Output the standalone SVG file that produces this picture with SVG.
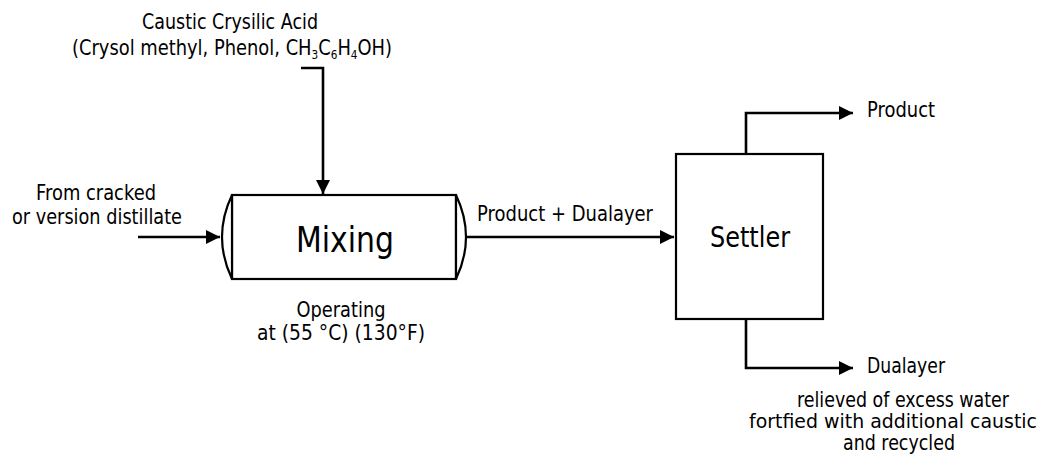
<svg xmlns="http://www.w3.org/2000/svg" width="1047" height="456" viewBox="0 0 1047 456">
  <style>
    text { font-family: "DejaVu Sans", Verdana, sans-serif; fill: #000; }
    .lbl { font-size: 20.5px; }
    .mid { text-anchor: middle; }
    .sub { font-size: 12px; }
    .line { fill: none; stroke: #000; stroke-width: 2.6; }
    .box { fill: #fff; stroke: #000; stroke-width: 2.2; }
  </style>
  <defs>
    <marker id="arrow" viewBox="0 0 14 14" refX="14" refY="7" markerWidth="14" markerHeight="14" markerUnits="userSpaceOnUse" orient="auto">
      <path d="M0,0 L14,7 L0,14 Z" fill="#000"/>
    </marker>
  </defs>
  <rect width="1047" height="456" fill="#fff"/>

  <g id="connectors">
    <path class="line" d="M301,68 H323 V194" marker-end="url(#arrow)"/>
    <path class="line" d="M138,237 H220" marker-end="url(#arrow)"/>
    <path class="line" d="M465,237 H674" marker-end="url(#arrow)"/>
    <path class="line" d="M746,154 V113 H853" marker-end="url(#arrow)"/>
    <path class="line" d="M746,319 V368 H853" marker-end="url(#arrow)"/>
  </g>

  <g id="feed-caustic">
    <text class="lbl mid" x="230" y="29" textLength="176" lengthAdjust="spacingAndGlyphs">Caustic Crysilic Acid</text>
    <text class="lbl mid" x="232" y="55" textLength="320" lengthAdjust="spacingAndGlyphs">(Crysol methyl, Phenol, CH<tspan class="sub" dy="4">3</tspan><tspan dy="-4">C</tspan><tspan class="sub" dy="4">6</tspan><tspan dy="-4">H</tspan><tspan class="sub" dy="4">4</tspan><tspan dy="-4">OH)</tspan></text>
  </g>

  <g id="feed-distillate">
    <text class="lbl mid" x="96" y="200" textLength="120" lengthAdjust="spacingAndGlyphs">From cracked</text>
    <text class="lbl mid" x="97" y="224" textLength="170" lengthAdjust="spacingAndGlyphs">or version distillate</text>
  </g>

  <g id="mixing">
    <rect class="box" x="232" y="195" width="224" height="84"/>
    <path class="box" d="M232,195 Q212,237 232,279 Z"/>
    <path class="box" d="M456,195 Q476,237 456,279 Z"/>
    <text class="mid" x="345" y="252" font-size="36" textLength="98" lengthAdjust="spacingAndGlyphs">Mixing</text>
    <text class="lbl mid" x="341" y="317" textLength="89" lengthAdjust="spacingAndGlyphs">Operating</text>
    <text class="lbl mid" x="341" y="340" textLength="168" lengthAdjust="spacingAndGlyphs">at (55 °C) (130°F)</text>
  </g>

  <g id="stream-label">
    <text class="lbl" x="477" y="221" textLength="176" lengthAdjust="spacingAndGlyphs">Product + Dualayer</text>
  </g>

  <g id="settler">
    <rect class="box" x="676" y="154" width="147" height="165"/>
    <text class="mid" x="750" y="247" font-size="27.5" textLength="80" lengthAdjust="spacingAndGlyphs">Settler</text>
  </g>

  <g id="product">
    <text class="lbl" x="867" y="117" textLength="68" lengthAdjust="spacingAndGlyphs">Product</text>
  </g>

  <g id="dualayer">
    <text class="lbl" x="867" y="373" textLength="78" lengthAdjust="spacingAndGlyphs">Dualayer</text>
    <text class="lbl mid" x="903" y="407" textLength="212" lengthAdjust="spacingAndGlyphs">relieved of excess water</text>
    <text class="mid" x="893" y="428" font-size="19" textLength="288" lengthAdjust="spacingAndGlyphs">fortfied with additional caustic</text>
    <text class="lbl mid" x="899" y="450" textLength="112" lengthAdjust="spacingAndGlyphs">and recycled</text>
  </g>
</svg>
